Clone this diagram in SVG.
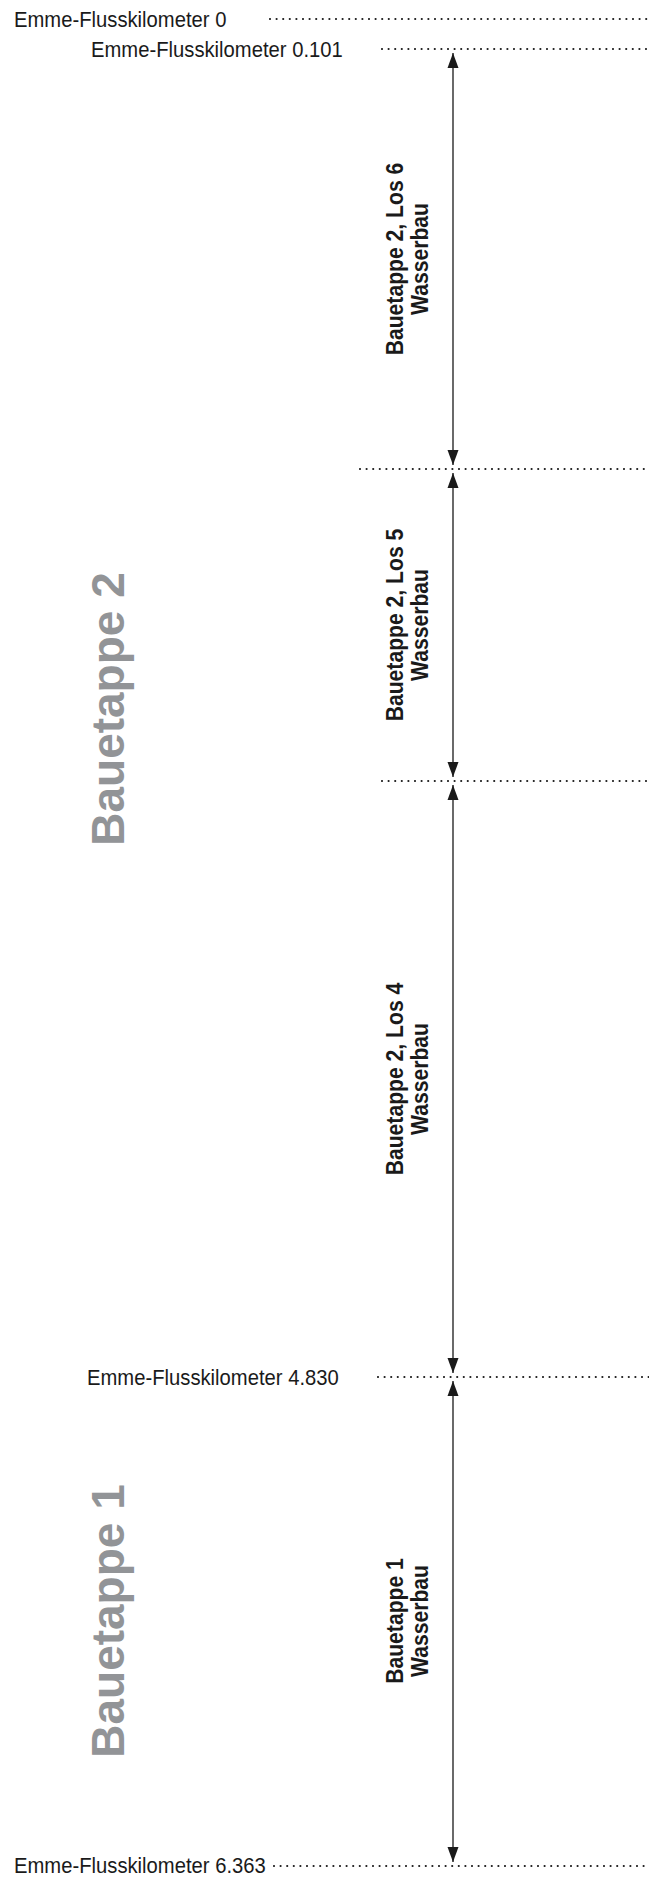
<svg xmlns="http://www.w3.org/2000/svg" width="649" height="1877" viewBox="0 0 649 1877">
<style>
.km{font-family:"Liberation Sans",Arial,sans-serif;font-size:22px;fill:#1a1a1a}
.lbl{font-family:"Liberation Sans",Arial,sans-serif;font-size:23px;font-weight:bold;fill:#1a1a1a;text-anchor:middle}
.big{font-family:"Liberation Sans",Arial,sans-serif;font-size:46px;font-weight:bold;fill:#929497;text-anchor:middle}
.dot{stroke:#1a1a1a;stroke-width:2.2;stroke-linecap:round;stroke-dasharray:0 6.6;fill:none}
.arr{stroke:#1a1a1a;stroke-width:1.3;fill:none;marker-start:url(#ah);marker-end:url(#ah)}
</style>
<defs>
<marker id="ah" markerUnits="userSpaceOnUse" markerWidth="16" markerHeight="12" refX="15" refY="6" orient="auto-start-reverse" viewBox="0 0 16 12">
<path d="M0,0.5 L15,6 L0,11.5 z" fill="#1a1a1a"/>
</marker>
</defs>
<rect width="649" height="1877" fill="#ffffff"/>
<g id="connectors">
<line class="dot" x1="270" y1="19" x2="649" y2="19"/>
<line class="dot" x1="382" y1="49" x2="649" y2="49"/>
<line class="dot" x1="360" y1="469" x2="649" y2="469"/>
<line class="dot" x1="382" y1="781" x2="649" y2="781"/>
<line class="dot" x1="378" y1="1377" x2="649" y2="1377"/>
<line class="dot" x1="274" y1="1866" x2="649" y2="1866"/>
<line class="arr" x1="453" y1="53" x2="453" y2="465"/>
<line class="arr" x1="453" y1="473" x2="453" y2="777"/>
<line class="arr" x1="453" y1="785" x2="453" y2="1373"/>
<line class="arr" x1="453" y1="1381" x2="453" y2="1862"/>
</g>
<g id="km0"><text class="km" transform="translate(14,27) scale(0.92,1)">Emme-Flusskilometer 0</text></g>
<g id="km0101"><text class="km" transform="translate(91,57) scale(0.92,1)">Emme-Flusskilometer 0.101</text></g>
<g id="km4830"><text class="km" transform="translate(87,1385) scale(0.92,1)">Emme-Flusskilometer 4.830</text></g>
<g id="km6363"><text class="km" transform="translate(14,1873) scale(0.92,1)">Emme-Flusskilometer 6.363</text></g>
<g id="los6">
<text class="lbl" transform="translate(403,259) rotate(-90) scale(0.92,1)">Bauetappe 2, Los 6</text>
<text class="lbl" transform="translate(428,259) rotate(-90) scale(0.92,1)">Wasserbau</text>
</g>
<g id="los5">
<text class="lbl" transform="translate(403,625) rotate(-90) scale(0.92,1)">Bauetappe 2, Los 5</text>
<text class="lbl" transform="translate(428,625) rotate(-90) scale(0.92,1)">Wasserbau</text>
</g>
<g id="los4">
<text class="lbl" transform="translate(403,1079) rotate(-90) scale(0.92,1)">Bauetappe 2, Los 4</text>
<text class="lbl" transform="translate(428,1079) rotate(-90) scale(0.92,1)">Wasserbau</text>
</g>
<g id="etappe1label">
<text class="lbl" transform="translate(403,1621) rotate(-90) scale(0.92,1)">Bauetappe 1</text>
<text class="lbl" transform="translate(428,1621) rotate(-90) scale(0.92,1)">Wasserbau</text>
</g>
<g id="bauetappe2"><text class="big" transform="translate(124,709) rotate(-90)">Bauetappe 2</text></g>
<g id="bauetappe1"><text class="big" transform="translate(124,1621) rotate(-90)">Bauetappe 1</text></g>
</svg>
